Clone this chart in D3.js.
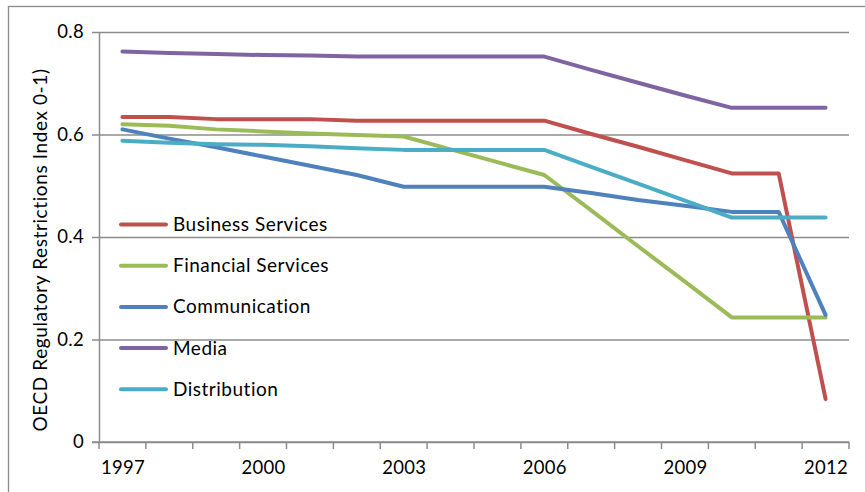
<!DOCTYPE html>
<html>
<head>
<meta charset="utf-8">
<script src="https://cdn.jsdelivr.net/npm/d3@7"></script>
<style>
  html, body { margin: 0; padding: 0; background: #fff; }
  svg { display: block; }
  text { font-family: Lato, "Open Sans", sans-serif; fill: #000; }
</style>
</head>
<body>
<svg id="chart" width="865" height="492"></svg>
<script>
// ---- data ----
const years = ["1997","1998","1999","2000","2001","2002","2003","2004","2005","2006","2007","2008","2009","2010","2011","2012"];
const labeledYears = ["1997","2000","2003","2006","2009","2012"];
const yTicks = [0, 0.2, 0.4, 0.6, 0.8];
const seriesNames = ["Business Services","Financial Services","Communication","Media","Distribution"];
const businessServices  = [0.634,0.634,0.630,0.630,0.630,0.627,0.627,0.627,0.627,0.627,0.601,0.576,0.550,0.524,0.524,0.084];
const financialServices = [0.620,0.617,0.610,0.606,0.602,0.599,0.596,0.571,0.546,0.521,0.452,0.382,0.313,0.243,0.243,0.243];
const communication     = [0.610,0.592,0.575,0.557,0.539,0.521,0.498,0.498,0.498,0.498,0.486,0.472,0.461,0.449,0.449,0.248];
const media             = [0.762,0.759,0.757,0.755,0.754,0.752,0.752,0.752,0.752,0.752,0.726,0.701,0.676,0.652,0.652,0.652];
const distribution      = [0.588,0.584,0.581,0.580,0.577,0.573,0.570,0.570,0.570,0.570,0.537,0.504,0.471,0.438,0.438,0.438];
const colors = ["#C0504D","#9BBB59","#4F81BD","#8064A2","#4BACC6"];
const yTitle = "OECD Regulatory Restrictions Index 0-1)";

const seriesValues = [businessServices, financialServices, communication, media, distribution];

// ---- layout ----
const svg = d3.select("#chart");
const plotLeft = 99, plotRight = 849, plotTop = 32, plotBottom = 442;
const gridColor = "#8c8c8c";

// outer frame (cut off at right/bottom like the reference)
svg.append("rect")
  .attr("x", 8.5).attr("y", 6.5)
  .attr("width", 900).attr("height", 520)
  .attr("fill", "none").attr("stroke", "#8c8c8c").attr("stroke-width", 1.3);

const x = d3.scalePoint().domain(years).range([plotLeft, plotRight]).padding(0.5);
const step = x.step();
const y = d3.scaleLinear().domain([0, 0.8]).range([plotBottom, plotTop]);

// gridlines + y axis
const yAxis = d3.axisLeft(y)
  .tickValues(yTicks)
  .tickFormat(d => d === 0 ? "0" : d3.format(".1f")(d))
  .tickSizeInner(-(plotRight - plotLeft))
  .tickSizeOuter(0)
  .tickPadding(16);
const gy = svg.append("g").attr("transform", `translate(${plotLeft},0)`).call(yAxis);
gy.select(".domain").attr("stroke", gridColor).attr("stroke-width", 1.5);
gy.selectAll(".tick line").attr("stroke", gridColor).attr("stroke-width", 1.5).attr("x1", -7);
gy.selectAll(".tick text").attr("font-size", 18.5).attr("font-family", "Lato, sans-serif")
  .attr("fill", "#000").attr("dx", 1).attr("letter-spacing", 0.3);

// x axis with labels every third year
const xAxis = d3.axisBottom(x)
  .tickValues(labeledYears)
  .tickSize(0)
  .tickPadding(19);
const gx = svg.append("g").attr("transform", `translate(0,${plotBottom})`).call(xAxis);
gx.select(".domain").remove();
gx.selectAll(".tick text").attr("font-size", 18.5).attr("font-family", "Lato, sans-serif")
  .attr("fill", "#000").attr("letter-spacing", 0.3);
svg.append("line")
  .attr("x1", plotLeft - 7).attr("x2", plotRight).attr("y1", plotBottom).attr("y2", plotBottom)
  .attr("stroke", gridColor).attr("stroke-width", 1.5);
// category boundary tick marks
const boundaries = years.map(d => x(d) - step / 2).concat([x(years[years.length - 1]) + step / 2]);
svg.append("g").selectAll("line").data(boundaries).join("line")
  .attr("x1", d => d).attr("x2", d => d)
  .attr("y1", plotBottom).attr("y2", plotBottom + 7)
  .attr("stroke", gridColor).attr("stroke-width", 1.5);

// y axis title
svg.append("text")
  .attr("transform", `translate(46.5,250) rotate(-90)`)
  .attr("text-anchor", "middle")
  .attr("font-size", 19)
  .attr("letter-spacing", 0.6)
  .text(yTitle);

// series lines
const line = d3.line().x((d, i) => x(years[i])).y(d => y(d));
seriesValues.forEach((vals, i) => {
  svg.append("path")
    .datum(vals)
    .attr("d", line)
    .attr("fill", "none")
    .attr("stroke", colors[i])
    .attr("stroke-width", 4)
    .attr("stroke-linejoin", "round")
    .attr("stroke-linecap", "round");
});

// legend
const legendY0 = 224.5, legendStep = 41.2;
const lg = svg.append("g");
seriesNames.forEach((name, i) => {
  const ly = legendY0 + i * legendStep;
  lg.append("line")
    .attr("x1", 121).attr("x2", 166).attr("y1", ly).attr("y2", ly)
    .attr("stroke", colors[i]).attr("stroke-width", 4).attr("stroke-linecap", "round");
  lg.append("text")
    .attr("x", 173).attr("y", ly + 6.5)
    .attr("font-size", 19)
    .attr("letter-spacing", 0.5)
    .text(name);
});
</script>
</body>
</html>
